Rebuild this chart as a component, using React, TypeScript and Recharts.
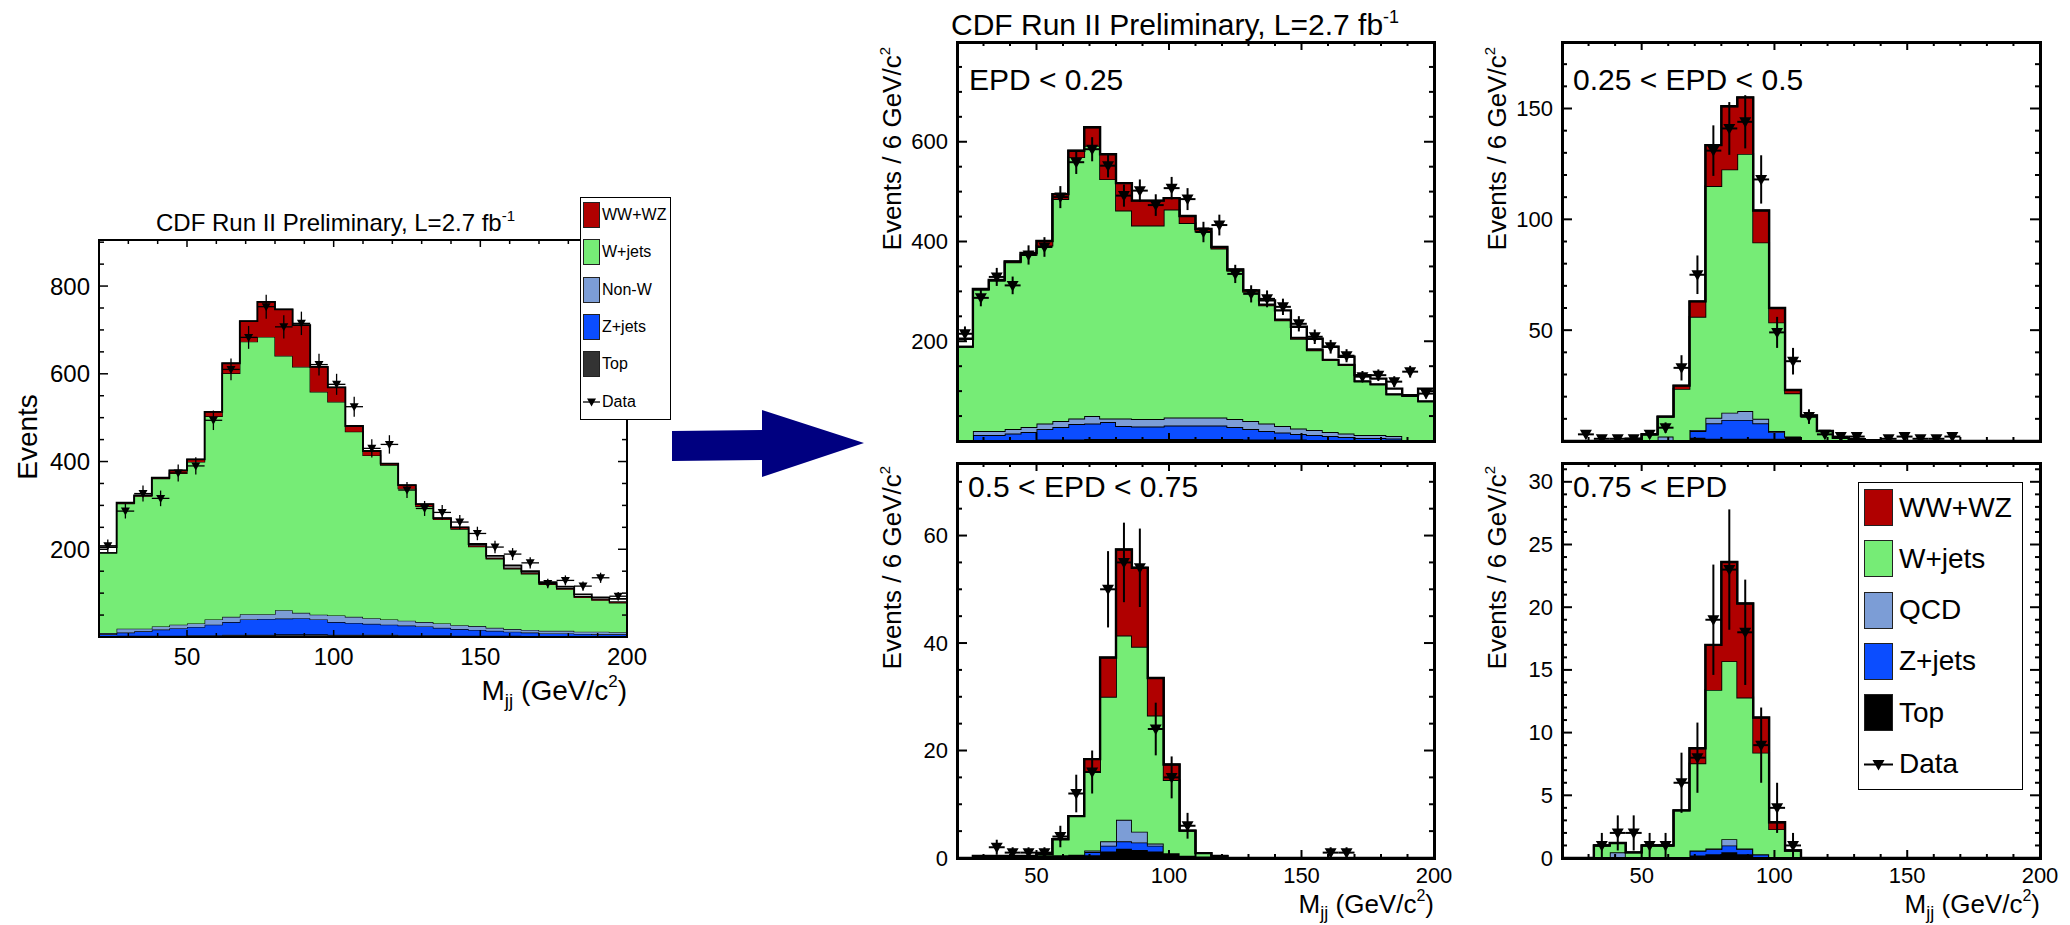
import React from 'react'
import { ComposedChart, Area, Line, Scatter, ErrorBar, XAxis, YAxis, Legend } from 'recharts'

const FONT = "'Liberation Sans', Arial, Helvetica, sans-serif"

// 6 GeV/c^2 bins of the dijet mass, 20 - 200
const binEdges = [20, 26, 32, 38, 44, 50, 56, 62, 68, 74, 80, 86, 92, 98, 104, 110, 116, 122, 128, 134, 140, 146, 152, 158, 164, 170, 176, 182, 188, 194]
const binCenters = [23, 29, 35, 41, 47, 53, 59, 65, 71, 77, 83, 89, 95, 101, 107, 113, 119, 125, 131, 137, 143, 149, 155, 161, 167, 173, 179, 185, 191, 197]
const X_MIN = 20
const X_MAX = 200
const HALF_BIN = 3
const massTicks = [50, 100, 150, 200]

// inclusive sample (left plot)
const incTop = [2, 3, 3, 3, 3, 4, 4, 5, 5, 5, 6, 6, 6, 5, 5, 5, 5, 4, 4, 4, 3, 3, 3, 3, 2, 2, 2, 2, 2, 2]
const incZjets = [4, 7, 10, 14, 17, 19, 24, 29, 35, 36, 36, 37, 34, 29, 27, 25, 23, 22, 20, 17, 15, 13, 11, 9, 8, 6, 6, 5, 4, 4]
const incNonW = [3, 9, 6, 7, 8, 8, 12, 12, 12, 11, 19, 12, 11, 15, 14, 13, 12, 11, 10, 10, 9, 9, 7, 6, 6, 6, 6, 5, 6, 5]
const incWjets = [183, 285, 302, 337, 345, 368, 463, 555, 621, 632, 580, 561, 508, 487, 422, 371, 352, 301, 264, 237, 219, 181, 157, 137, 128, 106, 95, 78, 72, 67]
const incWwwz = [0, 2, 2, 2, 7, 6, 10, 23, 47, 80, 106, 95, 57, 33, 13, 10, 3, 8, 5, 3, 4, 2, 2, 2, 2, 2, 2, 2, 2, 2]
const incTotal = [205, 306, 323, 363, 380, 405, 513, 624, 720, 764, 747, 711, 616, 569, 481, 424, 395, 346, 303, 271, 250, 212, 185, 163, 150, 125, 115, 97, 90, 87]
const incData = [208, 287, 327, 316, 374, 390, 494, 610, 683, 753, 707, 715, 621, 576, 525, 430, 439, 335, 293, 284, 262, 236, 205, 189, 169, 122, 129, 116, 135, 93]
const incErr = [14.4, 16.9, 18.1, 17.8, 19.3, 19.7, 22.2, 24.7, 26.1, 27.4, 26.6, 26.7, 24.9, 24, 22.9, 20.7, 21, 18.3, 17.1, 16.9, 16.2, 15.4, 14.3, 13.7, 13, 11, 11.4, 10.8, 11.6, 9.6]

// EPD < 0.25
const epd1Top = [0, 2, 2, 2, 2, 3, 3, 3, 4, 4, 4, 4, 4, 4, 4, 4, 4, 4, 3, 3, 3, 3, 2, 2, 2, 2, 2, 1, 0, 0]
const epd1Zjets = [0, 10, 10, 13, 16, 21, 25, 31, 31, 34, 26, 25, 25, 27, 27, 27, 27, 24, 21, 17, 14, 11, 10, 8, 6, 4, 4, 4, 0, 0]
const epd1Qcd = [0, 8, 8, 9, 10, 11, 12, 11, 15, 7, 15, 15, 15, 16, 16, 16, 16, 16, 16, 15, 13, 11, 10, 8, 7, 6, 6, 5, 0, 0]
const epd1Wjets = [189, 283, 301, 334, 345, 357, 445, 524, 542, 480, 417, 388, 388, 417, 390, 373, 339, 297, 259, 237, 212, 180, 160, 144, 137, 107, 101, 83, 90, 79]
const epd1Wwwz = [0, 2, 2, 2, 4, 9, 10, 13, 37, 50, 55, 50, 50, 23, 14, 5, 3, 3, 3, 2, 2, 2, 2, 1, 1, 1, 1, 1, 1, 1]
const epd1Total = [205, 305, 323, 360, 377, 401, 495, 582, 629, 575, 517, 482, 482, 487, 451, 425, 389, 344, 302, 282, 262, 229, 205, 189, 169, 132, 125, 105, 92, 105]
const epd1Data = [215, 287, 329, 312, 373, 389, 489, 559, 585, 552, 492, 502, 473, 507, 485, 419, 433, 335, 295, 285, 269, 235, 209, 189, 171, 129, 132, 119, 139, 95]
const epd1Err = [14.7, 16.9, 18.1, 17.7, 19.3, 19.7, 22.1, 23.6, 24.2, 23.5, 22.2, 22.4, 21.7, 22.5, 22, 20.5, 20.8, 18.3, 17.2, 16.9, 16.4, 15.3, 14.5, 13.7, 13.1, 11.4, 11.5, 10.9, 11.8, 9.7]

// 0.25 < EPD < 0.5
const epd2Top = [0, 0, 0, 0, 0, 0, 0, 0, 1.5, 1, 1, 1, 1, 1, 2, 0, 0, 0, 0, 0, 0, 0, 0, 0, 0, 0, 0, 0, 0, 0]
const epd2Zjets = [0, 0, 0, 0, 0, 0, 0, 0, 3, 7, 8.5, 8.5, 7, 3, 0, 0, 0, 0, 0, 0, 0, 0, 0, 0, 0, 0, 0, 0, 0, 0]
const epd2Qcd = [0, 0, 0, 0, 0, 0.5, 2, 0, 0.5, 2.5, 3.3, 4, 2, 0.5, 0, 0, 0, 0, 0, 0, 0, 0, 0, 0, 0, 0, 0, 0, 0, 0]
const epd2Wjets = [0, 0, 0, 0, 1, 2.5, 9, 23.5, 51, 104.5, 109.7, 116, 79.6, 49, 19.5, 11, 4.5, 1.5, 0.8, 0.4, 0, 0, 0, 0, 0, 0, 0, 0, 0, 0]
const epd2Wwwz = [0, 0, 0, 0, 0, 0, 0, 1.5, 7, 18.5, 28.5, 25.5, 14.4, 6.5, 1.5, 0.5, 0, 0, 0, 0, 0, 0, 0, 0, 0, 0, 0, 0, 0, 0]
const epd2Total = [0, 0, 0, 0, 1, 3, 11, 25, 63, 133.5, 151, 155, 104, 60, 23, 11.5, 4.5, 1.5, 0.8, 0.4, 0, 0, 0, 0, 0, 0, 0, 0, 0, 0]
const epd2Data = [0, 3, 1, 1, 1, 3, 6, 33, 75, 131, 141, 144, 118, 49, 36, 11, 3, 2, 2, 0, 1, 2, 1, 1, 2, 0, 0, 0, 0, 0]
const epd2Err = [0, 1.7, 1, 1, 1, 1.7, 2.4, 5.7, 8.7, 11.4, 11.9, 12, 10.9, 7, 6, 3.3, 1.7, 1.4, 1.4, 0, 1, 1.4, 1, 1, 1.4, 0, 0, 0, 0, 0]

// 0.5 < EPD < 0.75
const epd3Top = [0, 0.4, 0.4, 0.4, 0.4, 0.4, 0.5, 0.6, 0.5, 1.2, 1.7, 1.5, 1.2, 0.9, 0.4, 0.3, 0.4, 0, 0, 0, 0, 0, 0, 0, 0, 0, 0, 0, 0, 0]
const epd3Zjets = [0, 0, 0, 0, 0, 0, 0, 0, 0.6, 1.1, 1.4, 1.4, 1.1, 0, 0, 0, 0, 0, 0, 0, 0, 0, 0, 0, 0, 0, 0, 0, 0, 0]
const epd3Qcd = [0, 0, 0, 0, 0, 0, 0, 0, 0.3, 0.8, 4, 2, 0.4, 0, 0, 0, 0, 0, 0, 0, 0, 0, 0, 0, 0, 0, 0, 0, 0, 0]
const epd3Wjets = [0, 0, 0, 0, 0, 0.3, 3, 7.2, 14.6, 26.9, 34.3, 34.4, 23.8, 13.6, 4.7, 0.6, 0, 0, 0, 0, 0, 0, 0, 0, 0, 0, 0, 0, 0, 0]
const epd3Wwwz = [0, 0, 0, 0, 0, 0, 0, 0, 2.4, 7.3, 16, 14.7, 7, 2.9, 0, 0, 0, 0, 0, 0, 0, 0, 0, 0, 0, 0, 0, 0, 0, 0]
const epd3Total = [0, 0.4, 0.4, 0.4, 0.4, 0.7, 3.5, 7.8, 18.4, 37.3, 57.4, 54, 33.5, 17.4, 5.1, 0.9, 0.4, 0, 0, 0, 0, 0, 0, 0, 0, 0, 0, 0, 0, 0]
const epd3Data = [0, 0, 2, 1, 1, 1, 4, 12, 16, 50, 55, 54, 24, 15, 6, 0, 0, 0, 0, 0, 0, 0, 0, 1, 1, 0, 0, 0, 0, 0]
const epd3Err = [0, 0, 1.4, 1, 1, 1, 2, 3.5, 4, 7.1, 7.4, 7.3, 4.9, 3.9, 2.4, 0, 0, 0, 0, 0, 0, 0, 0, 1, 1, 0, 0, 0, 0, 0]

// 0.75 < EPD
const epd4Top = [0, 0, 0, 0, 0, 0, 0, 0, 0.2, 0.3, 0.45, 0.3, 0.05, 0, 0, 0, 0, 0, 0, 0, 0, 0, 0, 0, 0, 0, 0, 0, 0, 0]
const epd4Zjets = [0, 0, 0, 0, 0, 0, 0, 0, 0.4, 0.4, 0.55, 0.4, 0.25, 0, 0, 0, 0, 0, 0, 0, 0, 0, 0, 0, 0, 0, 0, 0, 0, 0]
const epd4Qcd = [0, 0, 0, 0.45, 0, 0, 0, 0, 0, 0.05, 0.5, 0.05, 0, 0, 0, 0, 0, 0, 0, 0, 0, 0, 0, 0, 0, 0, 0, 0, 0, 0]
const epd4Wjets = [0, 0, 1, 0.75, 0.45, 1, 1, 3.8, 6.95, 12.65, 14.2, 12.05, 8.1, 2.3, 0.6, 0, 0, 0, 0, 0, 0, 0, 0, 0, 0, 0, 0, 0, 0, 0]
const epd4Wwwz = [0, 0, 0, 0, 0, 0, 0, 0, 1.2, 3.6, 7.9, 7.5, 2.8, 0.55, 0, 0, 0, 0, 0, 0, 0, 0, 0, 0, 0, 0, 0, 0, 0, 0]
const epd4Total = [0, 0, 1, 1.2, 0.45, 1, 1, 3.8, 8.75, 17, 23.6, 20.3, 11.2, 2.85, 0.6, 0, 0, 0, 0, 0, 0, 0, 0, 0, 0, 0, 0, 0, 0, 0]
const epd4Data = [0, 0, 1, 2, 2, 1, 1, 6, 8, 19, 23, 18, 9, 4, 1, 0, 0, 0, 0, 0, 0, 0, 0, 0, 0, 0, 0, 0, 0, 0]
const epd4Err = [0, 0, 1, 1.4, 1.4, 1, 1, 2.4, 2.8, 4.4, 4.8, 4.2, 3, 2, 1, 0, 0, 0, 0, 0, 0, 0, 0, 0, 0, 0, 0, 0, 0, 0]

const TITLE = 'CDF Run II Preliminary, L=2.7 fb'
const epdLabels = ['EPD < 0.25', '0.25 < EPD < 0.5', '0.5 < EPD < 0.75', '0.75 < EPD']
const incLegend = ['WW+WZ', 'W+jets', 'Non-W', 'Z+jets', 'Top', 'Data']
const epdLegend = ['WW+WZ', 'W+jets', 'QCD', 'Z+jets', 'Top', 'Data']

const RED = '#b00000'
const GREEN = '#76ec76'
const LIGHTBLUE = '#7c9dd6'
const BLUE = '#0b4dff'

type Sample = {
  top: number[]; zjets: number[]; qcd: number[]; wjets: number[]; wwwz: number[]
  total: number[]; data: number[]; err: number[]
}

const incSample: Sample = { top: incTop, zjets: incZjets, qcd: incNonW, wjets: incWjets, wwwz: incWwwz, total: incTotal, data: incData, err: incErr }
const epd1: Sample = { top: epd1Top, zjets: epd1Zjets, qcd: epd1Qcd, wjets: epd1Wjets, wwwz: epd1Wwwz, total: epd1Total, data: epd1Data, err: epd1Err }
const epd2: Sample = { top: epd2Top, zjets: epd2Zjets, qcd: epd2Qcd, wjets: epd2Wjets, wwwz: epd2Wwwz, total: epd2Total, data: epd2Data, err: epd2Err }
const epd3: Sample = { top: epd3Top, zjets: epd3Zjets, qcd: epd3Qcd, wjets: epd3Wjets, wwwz: epd3Wwwz, total: epd3Total, data: epd3Data, err: epd3Err }
const epd4: Sample = { top: epd4Top, zjets: epd4Zjets, qcd: epd4Qcd, wjets: epd4Wjets, wwwz: epd4Wwwz, total: epd4Total, data: epd4Data, err: epd4Err }

// axis tick positions (minor ticks include the labelled ones)
const range = (from: number, to: number, step: number) => {
  const out: number[] = []
  for (let v = from; v <= to + 1e-9; v += step) out.push(v)
  return out
}

type Look = {
  stroke: number; tickStroke: number; majorLen: number; minorLen: number
  tickFont: number; yGap: number; xGap: number; frame: number
  tri: [number, number, number]; errStroke: number; topColor: string
}

const bigLook: Look = { stroke: 1.2, tickStroke: 1.5, majorLen: 9, minorLen: 5, tickFont: 24, yGap: 9, xGap: 28, frame: 2, tri: [4.5, 3.5, 4.5], errStroke: 1.3, topColor: '#333333' }
const smallLook: Look = { stroke: 1.8, tickStroke: 2, majorLen: 10, minorLen: 5, tickFont: 22, yGap: 9, xGap: 25, frame: 3, tri: [6, 4.5, 6], errStroke: 2, topColor: '#000000' }

type Box = { left: number; top: number; width: number; height: number; mt: number; mr: number; yWidth: number; xHeight: number }

type LegendSpec = {
  names: string[]; left: number; top: number; width: number; height: number
  first: number; step: number; swLeft: number; swW: number; swH: number; textLeft: number; font: number
}

function LegendBox({ spec, colors, look }: { spec: LegendSpec; colors: string[]; look: Look }) {
  return (
    <div style={{ position: 'relative', width: spec.width, height: spec.height, border: '1.5px solid #000', background: '#fff', boxSizing: 'border-box', fontFamily: FONT }}>
      {spec.names.map((name, i) => {
        const cy = spec.first + i * spec.step
        const isData = name === 'Data'
        const [h, up, down] = look.tri
        return (
          <div key={name}>
            {isData ? (
              <svg style={{ position: 'absolute', left: spec.swLeft, top: cy - spec.swH / 2 }} width={spec.swW} height={spec.swH}>
                <line x1={0} x2={spec.swW} y1={spec.swH / 2} y2={spec.swH / 2} stroke="#000" strokeWidth={look.errStroke} />
                <polygon points={`${spec.swW / 2 - h},${spec.swH / 2 - up} ${spec.swW / 2 + h},${spec.swH / 2 - up} ${spec.swW / 2},${spec.swH / 2 + down}`} fill="#000" />
              </svg>
            ) : (
              <div style={{ position: 'absolute', left: spec.swLeft, top: cy - spec.swH / 2, width: spec.swW, height: spec.swH, background: colors[i], border: '1px solid #222', boxSizing: 'border-box' }} />
            )}
            <div style={{ position: 'absolute', left: spec.textLeft, top: cy, transform: 'translateY(-50%)', fontSize: spec.font, lineHeight: 1, whiteSpace: 'nowrap', color: '#000' }}>{name}</div>
          </div>
        )
      })}
    </div>
  )
}

function Panel({ sample, box, yMax, yMajor, yTicks, showX, look, legend }: {
  sample: Sample; box: Box; yMax: number; yMajor: number[]; yTicks: number[]; showX: boolean; look: Look; legend?: LegendSpec
}) {
  const plotW = box.width - box.mr - box.yWidth
  const plotH = box.height - box.mt - box.xHeight
  const rows = binEdges.map((x, i) => ({
    x, top: sample.top[i], zjets: sample.zjets[i], qcd: sample.qcd[i], wjets: sample.wjets[i], wwwz: sample.wwwz[i], total: sample.total[i],
  }))
  rows.push({ ...rows[rows.length - 1], x: X_MAX })
  const points = binCenters
    .map((x, i) => ({ x, y: sample.data[i], err: sample.err[i], xerr: HALF_BIN }))
    .filter((p) => p.y > 0)

  const yTick = (p: any) => {
    const v = p.payload.value
    const major = yMajor.includes(v)
    const len = major ? look.majorLen : look.minorLen
    return (
      <g>
        <line x1={p.x} x2={p.x + len} y1={p.y} y2={p.y} stroke="#000" strokeWidth={look.tickStroke} />
        <line x1={p.x + plotW} x2={p.x + plotW - len} y1={p.y} y2={p.y} stroke="#000" strokeWidth={look.tickStroke} />
        {major && (
          <text x={p.x - look.yGap} y={p.y} textAnchor="end" dominantBaseline="central" fontSize={look.tickFont} fontFamily={FONT} fill="#000">{v}</text>
        )}
      </g>
    )
  }
  const xTick = (p: any) => {
    const v = p.payload.value
    const major = massTicks.includes(v)
    const len = major ? look.majorLen - 2 : look.minorLen - 1
    return (
      <g>
        <line x1={p.x} x2={p.x} y1={p.y} y2={p.y - len} stroke="#000" strokeWidth={look.tickStroke} />
        <line x1={p.x} x2={p.x} y1={p.y - plotH} y2={p.y - plotH + len} stroke="#000" strokeWidth={look.tickStroke} />
        {major && showX && (
          <text x={p.x} y={p.y + look.xGap} textAnchor="middle" fontSize={look.tickFont} fontFamily={FONT} fill="#000">{v}</text>
        )}
      </g>
    )
  }
  const [h, up, down] = look.tri
  const triangle = (p: any) => (
    <polygon points={`${p.cx - h},${p.cy - up} ${p.cx + h},${p.cy - up} ${p.cx},${p.cy + down}`} fill="#000" />
  )
  const colors = [RED, GREEN, LIGHTBLUE, BLUE, look.topColor]

  return (
    <div style={{ position: 'absolute', left: box.left, top: box.top, width: box.width, height: box.height }}>
      <ComposedChart width={box.width} height={box.height} data={rows} margin={{ top: box.mt, right: box.mr, bottom: 0, left: 0 }}>
        <XAxis dataKey="x" type="number" domain={[X_MIN, X_MAX]} allowDataOverflow ticks={range(20, 200, 10)} interval={0}
          tickSize={0} tickMargin={0} tickLine={false} axisLine={false} height={box.xHeight} tick={xTick} />
        <YAxis type="number" domain={[0, yMax]} allowDataOverflow ticks={yTicks} interval={0}
          tickSize={0} tickMargin={0} tickLine={false} axisLine={false} width={box.yWidth} tick={yTick} />
        <Area type="stepAfter" dataKey="top" stackId="mc" fill={look.topColor} fillOpacity={1} stroke="#000" strokeWidth={look.stroke} dot={false} activeDot={false} isAnimationActive={false} />
        <Area type="stepAfter" dataKey="zjets" stackId="mc" fill={BLUE} fillOpacity={1} stroke="#000" strokeWidth={look.stroke} dot={false} activeDot={false} isAnimationActive={false} />
        <Area type="stepAfter" dataKey="qcd" stackId="mc" fill={LIGHTBLUE} fillOpacity={1} stroke="#000" strokeWidth={look.stroke} dot={false} activeDot={false} isAnimationActive={false} />
        <Area type="stepAfter" dataKey="wjets" stackId="mc" fill={GREEN} fillOpacity={1} stroke="#000" strokeWidth={look.stroke} dot={false} activeDot={false} isAnimationActive={false} />
        <Area type="stepAfter" dataKey="wwwz" stackId="mc" fill={RED} fillOpacity={1} stroke="#000" strokeWidth={look.stroke} dot={false} activeDot={false} isAnimationActive={false} />
        <Line type="stepAfter" dataKey="total" stroke="#000" strokeWidth={look.stroke + 0.6} dot={false} activeDot={false} isAnimationActive={false} />
        <Scatter data={points} dataKey="y" shape={triangle} isAnimationActive={false}>
          <ErrorBar dataKey="err" direction="y" width={0} stroke="#000" strokeWidth={look.errStroke} isAnimationActive={false} />
          <ErrorBar dataKey="xerr" direction="x" width={0} stroke="#000" strokeWidth={look.errStroke} isAnimationActive={false} />
        </Scatter>
        {legend && (
          <Legend layout="vertical" align="center" verticalAlign="middle"
            wrapperStyle={{ position: 'absolute', left: legend.left, top: legend.top, width: legend.width, height: legend.height, zIndex: 2 }}
            content={() => <LegendBox spec={legend} colors={colors} look={look} />} />
        )}
      </ComposedChart>
      <div style={{
        position: 'absolute', left: box.yWidth - look.frame / 2, top: box.mt - look.frame / 2,
        width: plotW + look.frame, height: plotH + look.frame, border: `${look.frame}px solid #000`, boxSizing: 'border-box', zIndex: 1, pointerEvents: 'none',
      }} />
    </div>
  )
}

function MassTitle({ x, y, size }: { x: number; y: number; size: number }) {
  const sub = Math.round(size * 0.68)
  const sup = Math.round(size * 0.6)
  const subDy = Math.round(size * 0.24)
  const supDy = Math.round(size * 0.45)
  return (
    <text x={x} y={y} textAnchor="end" fontSize={size}>
      M<tspan dy={subDy} fontSize={sub}>jj</tspan>
      <tspan dy={-subDy} fontSize={size}> (GeV/c</tspan>
      <tspan dy={-supDy} fontSize={sup}>2</tspan>
      <tspan dy={supDy} fontSize={size}>)</tspan>
    </text>
  )
}

function EventsTitle({ x, y }: { x: number; y: number }) {
  return (
    <text transform={`translate(${x},${y}) rotate(-90)`} textAnchor="end" fontSize={26}>
      Events / 6 GeV/c<tspan dy={-11} fontSize={15}>2</tspan>
    </text>
  )
}

function Overlay() {
  return (
    <svg width={2070} height={925} style={{ position: 'absolute', left: 0, top: 0, zIndex: 3, pointerEvents: 'none' }} fontFamily={FONT} fill="#000">
      <polygon points="672,431 762,430 762,410 864,443 762,477 762,460 672,461" fill="#000080" />
      <text x={156} y={231} fontSize={24}>{TITLE}<tspan dy={-10} fontSize={15}>-1</tspan></text>
      <text x={951} y={35} fontSize={30}>{TITLE}<tspan dy={-12} fontSize={18}>-1</tspan></text>
      <text transform="translate(37,437) rotate(-90)" textAnchor="middle" fontSize={28}>Events</text>
      <MassTitle x={627} y={700} size={28} />
      <MassTitle x={1434} y={913} size={26} />
      <MassTitle x={2040} y={913} size={26} />
      <EventsTitle x={901} y={47} />
      <EventsTitle x={1506} y={47} />
      <EventsTitle x={901} y={466} />
      <EventsTitle x={1506} y={466} />
      <text x={969} y={90} fontSize={30}>{epdLabels[0]}</text>
      <text x={1573} y={90} fontSize={30}>{epdLabels[1]}</text>
      <text x={968} y={497} fontSize={30}>{epdLabels[2]}</text>
      <text x={1573} y={497} fontSize={30}>{epdLabels[3]}</text>
    </svg>
  )
}

export default function App() {
  return (
    <div style={{ position: 'absolute', left: 0, top: 0, width: 2070, height: 925, background: '#fff', fontFamily: FONT }}>
      <Panel sample={incSample} look={bigLook} showX yMax={905} yMajor={[200, 400, 600, 800]} yTicks={range(50, 900, 50)}
        box={{ left: 0, top: 180, width: 680, height: 520, mt: 60, mr: 53, yWidth: 99, xHeight: 63 }}
        legend={{ names: incLegend, left: 580, top: 17, width: 91, height: 223, first: 17, step: 37.3, swLeft: 2, swW: 17, swH: 26, textLeft: 21, font: 16 }} />
      <Panel sample={epd1} look={smallLook} showX={false} yMax={800} yMajor={[200, 400, 600]} yTicks={range(50, 800, 50)}
        box={{ left: 850, top: 0, width: 630, height: 450, mt: 42, mr: 46, yWidth: 107, xHeight: 9 }} />
      <Panel sample={epd2} look={smallLook} showX={false} yMax={180} yMajor={[50, 100, 150]} yTicks={range(10, 180, 10)}
        box={{ left: 1460, top: 0, width: 610, height: 450, mt: 42, mr: 30, yWidth: 102, xHeight: 9 }} />
      <Panel sample={epd3} look={smallLook} showX yMax={73.5} yMajor={[0, 20, 40, 60]} yTicks={range(0, 70, 5)}
        box={{ left: 850, top: 440, width: 630, height: 485, mt: 23, mr: 46, yWidth: 107, xHeight: 67 }} />
      <Panel sample={epd4} look={smallLook} showX yMax={31.5} yMajor={[0, 5, 10, 15, 20, 25, 30]} yTicks={range(0, 31, 1)}
        box={{ left: 1460, top: 440, width: 610, height: 485, mt: 23, mr: 30, yWidth: 102, xHeight: 67 }}
        legend={{ names: epdLegend, left: 398, top: 42, width: 165, height: 308, first: 24.5, step: 51.3, swLeft: 5, swW: 29, swH: 37, textLeft: 40, font: 28 }} />
      <Overlay />
    </div>
  )
}
